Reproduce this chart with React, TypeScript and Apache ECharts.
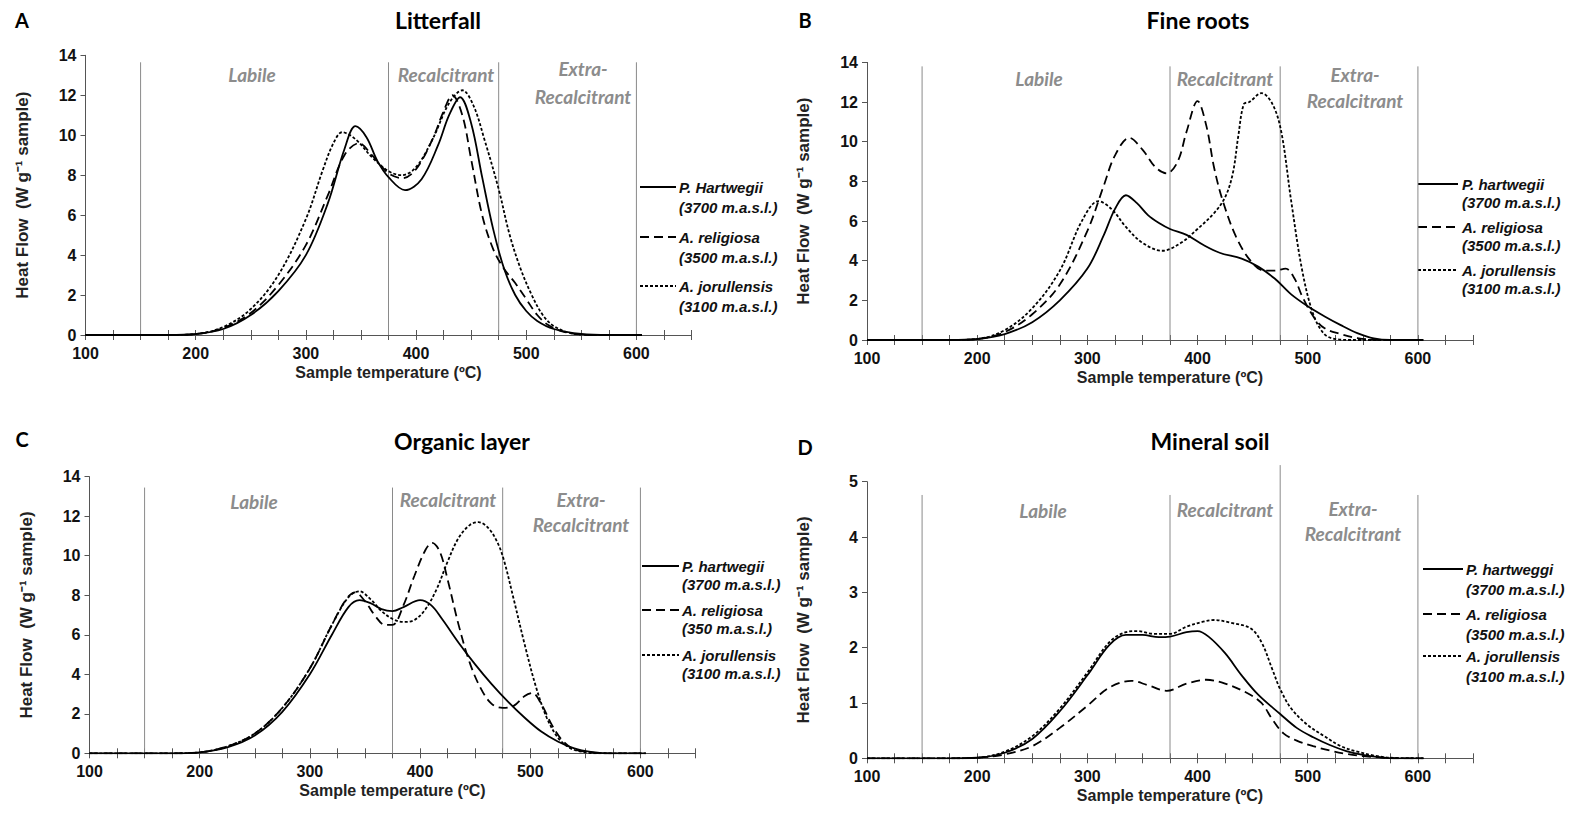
import React, { useEffect, useRef } from 'react';
import * as echarts from 'echarts';

// ---------- DATA ----------
const panelLetters = ['A', 'B', 'C', 'D'];
const panelTitles = ['Litterfall', 'Fine roots', 'Organic layer', 'Mineral soil'];
const regionBounds = [150, 375, 475, 600];
const regionNames = ['Labile', 'Recalcitrant', 'Extra-', 'Recalcitrant'];
const xTickLabels = [100, 200, 300, 400, 500, 600];
const yMaxes = [14, 14, 14, 5];
const yIntervals = [2, 2, 2, 1];
const speciesA = ['P. Hartwegii', 'A. religiosa', 'A. jorullensis'];
const speciesB = ['P. hartwegii', 'A. religiosa', 'A. jorullensis'];
const speciesC = ['P. hartwegii', 'A. religiosa', 'A. jorullensis'];
const speciesD = ['P. hartweggi', 'A. religiosa', 'A. jorullensis'];
const altitudesA = ['(3700 m.a.s.l.)', '(3500 m.a.s.l.)', '(3100 m.a.s.l.)'];
const altitudesC = ['(3700 m.a.s.l.)', '(350 m.a.s.l.)', '(3100 m.a.s.l.)'];
// heights where the region boundary lines stop
const boundTopsA = [13.65, 13.65, 13.65, 13.65];
const boundTopsB = [13.8, 13.8, 13.8, 13.8];
const boundTopsC = [13.45, 13.45, 13.45, 13.45];
const boundTopsD = [4.76, 4.76, 5.3, 4.76];

// A - Litterfall
const litterHartwegii = [[100,0],[150,0],[175,0],[200,0.05],[225,0.3],[250,1.0],[275,2.2],[300,4.0],[320,6.6],[335,9.3],[345,10.45],[355,9.9],[365,8.7],[375,7.9],[390,7.25],[405,7.8],[420,9.5],[430,11.0],[440,11.9],[450,10.6],[460,7.9],[470,5.3],[480,3.3],[490,2.0],[500,1.2],[510,0.7],[525,0.3],[550,0.05],[575,0],[605,0]];
const litterReligiosa = [[100,0],[150,0],[175,0],[200,0.05],[225,0.35],[250,1.1],[275,2.5],[300,4.5],[320,7.0],[335,9.0],[348,9.6],[360,9.0],[375,8.1],[388,7.85],[400,8.3],[415,9.8],[425,11.2],[433,12.0],[442,11.0],[450,8.8],[460,6.0],[470,4.3],[480,3.3],[490,2.6],[500,1.8],[510,1.0],[520,0.5],[535,0.15],[560,0],[605,0]];
const litterJorullensis = [[100,0],[150,0],[175,0],[200,0.05],[225,0.4],[250,1.3],[275,3.0],[300,5.8],[315,8.2],[325,9.6],[333,10.15],[345,9.8],[360,8.9],[375,8.2],[387,8.0],[400,8.4],[415,9.8],[430,11.6],[442,12.25],[452,11.5],[462,9.8],[475,7.3],[485,5.0],[495,3.3],[505,2.0],[515,1.0],[525,0.45],[540,0.1],[560,0],[605,0]];

// B - Fine roots
const rootsHartwegii = [[100,0],[150,0],[175,0],[200,0.05],[225,0.3],[250,0.9],[275,2.0],[300,3.6],[315,5.3],[325,6.6],[335,7.3],[345,6.9],[355,6.3],[365,5.9],[375,5.6],[390,5.3],[405,4.8],[420,4.4],[440,4.1],[455,3.7],[470,3.1],[485,2.3],[500,1.7],[515,1.2],[530,0.75],[545,0.35],[560,0.08],[575,0],[605,0]];
const rootsReligiosa = [[100,0],[150,0],[175,0],[200,0.05],[225,0.4],[250,1.3],[275,2.8],[300,5.5],[315,7.8],[325,9.3],[338,10.2],[350,9.6],[362,8.7],[372,8.4],[382,9.0],[390,10.5],[400,12.05],[408,10.8],[415,8.7],[423,7.0],[435,5.2],[448,4.0],[460,3.5],[470,3.5],[480,3.6],[488,3.1],[495,2.2],[505,1.2],[515,0.6],[530,0.3],[545,0.1],[565,0],[605,0]];
const rootsJorullensis = [[100,0],[150,0],[175,0],[200,0.05],[225,0.5],[250,1.6],[275,3.5],[295,6.0],[310,7.0],[322,6.6],[335,5.7],[350,4.9],[368,4.5],[385,4.9],[400,5.6],[415,6.4],[425,7.2],[432,8.4],[437,10.3],[442,11.9],[447,12.0],[458,12.45],[468,11.9],[476,10.5],[485,7.0],[495,3.5],[505,1.3],[515,0.3],[525,0.05],[540,0],[605,0]];

// C - Organic layer
const organicHartwegii = [[100,0],[150,0],[175,0],[200,0.05],[225,0.3],[250,0.9],[275,2.1],[300,4.0],[320,6.0],[335,7.4],[345,7.75],[355,7.6],[365,7.3],[375,7.2],[385,7.4],[400,7.75],[410,7.5],[420,6.8],[435,5.6],[450,4.5],[465,3.5],[480,2.6],[495,1.8],[510,1.1],[525,0.6],[540,0.25],[555,0.07],[570,0],[605,0]];
const organicReligiosa = [[100,0],[150,0],[175,0],[200,0.05],[225,0.35],[250,1.0],[275,2.3],[300,4.3],[320,6.5],[333,7.8],[341,8.15],[350,7.7],[360,6.9],[368,6.5],[375,6.5],[385,7.5],[395,9.0],[405,10.3],[411,10.65],[418,10.2],[425,8.8],[435,6.5],[445,4.6],[455,3.3],[465,2.5],[475,2.3],[485,2.4],[495,2.9],[502,3.05],[510,2.5],[520,1.4],[530,0.6],[540,0.2],[555,0.05],[570,0],[605,0]];
const organicJorullensis = [[100,0],[150,0],[175,0],[200,0.05],[225,0.35],[250,1.0],[275,2.3],[300,4.3],[320,6.5],[335,7.9],[345,8.2],[355,7.8],[365,7.2],[375,6.8],[385,6.65],[395,6.75],[405,7.3],[415,8.3],[425,9.7],[435,10.9],[445,11.55],[453,11.7],[462,11.4],[470,10.7],[476,9.8],[485,7.8],[495,5.5],[505,3.4],[515,1.8],[525,0.8],[535,0.3],[545,0.1],[560,0],[605,0]];

// D - Mineral soil
const soilHartweggi = [[100,0],[150,0],[175,0],[200,0.01],[225,0.1],[250,0.35],[275,0.85],[300,1.5],[320,2.05],[335,2.23],[350,2.23],[365,2.19],[375,2.2],[390,2.28],[400,2.3],[410,2.2],[425,1.9],[440,1.5],[455,1.15],[475,0.8],[490,0.55],[505,0.38],[520,0.24],[535,0.13],[550,0.06],[565,0.02],[580,0],[605,0]];
const soilReligiosa = [[100,0],[150,0],[175,0],[200,0.01],[225,0.07],[250,0.22],[275,0.55],[300,0.95],[320,1.28],[340,1.4],[355,1.32],[372,1.22],[390,1.35],[408,1.42],[425,1.35],[445,1.18],[458,1.0],[468,0.7],[478,0.45],[490,0.32],[505,0.22],[520,0.14],[535,0.08],[550,0.04],[570,0.01],[590,0],[605,0]];
const soilJorullensis = [[100,0],[150,0],[175,0],[200,0.01],[225,0.12],[250,0.4],[275,0.9],[300,1.55],[320,2.1],[335,2.28],[345,2.3],[360,2.25],[375,2.25],[390,2.38],[405,2.47],[415,2.5],[430,2.45],[448,2.35],[458,2.1],[468,1.6],[475,1.25],[485,0.9],[500,0.6],[515,0.4],[530,0.22],[545,0.12],[560,0.05],[575,0.01],[605,0]];

// ---------- LAYOUT / STYLE ----------
const grids = [
  { left: 85.5, top: 55.3, width: 606, height: 279.7 },
  { left: 867, top: 62.4, width: 606, height: 277.6 },
  { left: 89.5, top: 476.7, width: 606, height: 276.6 },
  { left: 867, top: 481.7, width: 606, height: 276.6 },
];
const letterPos = [[22, 20], [805, 20], [22, 439], [805, 447]];
const titlePos = [[438, 20], [1198, 20], [462, 441], [1210, 441]];
const regionPos = [
  [[252, 74], [446, 74], [583, 68], [583, 96]],
  [[1039, 78], [1225, 78], [1355, 74], [1355, 100]],
  [[254, 501], [448, 499], [581, 499], [581, 524]],
  [[1043, 510], [1225, 509], [1353, 508], [1353, 533]],
];
const legendPos = [
  { x1: 640, x2: 676, tx: 679, ys: [187, 237, 286], dy: 20 },
  { x1: 1418, x2: 1458, tx: 1462, ys: [184, 227, 270], dy: 18 },
  { x1: 642, x2: 679, tx: 682, ys: [566, 610, 655], dy: 18 },
  { x1: 1423, x2: 1463, tx: 1466, ys: [569, 614, 656], dy: 20 },
];
const dashes: (number[] | null)[] = [null, [9, 5], [3, 2]];
const NUMFONT = "'Liberation Sans Narrow','Arial Narrow','Liberation Sans',Arial,sans-serif";
const TXTFONT = "Lato,'Open Sans',sans-serif";

export default function App() {
  const ref = useRef<HTMLDivElement>(null);
  useEffect(() => {
    if (!ref.current) return;
    const chart = echarts.init(ref.current, undefined, { renderer: 'svg' });
    const panelData = [
      [litterHartwegii, litterReligiosa, litterJorullensis],
      [rootsHartwegii, rootsReligiosa, rootsJorullensis],
      [organicHartwegii, organicReligiosa, organicJorullensis],
      [soilHartweggi, soilReligiosa, soilJorullensis],
    ];
    const boundTops = [boundTopsA, boundTopsB, boundTopsC, boundTopsD];
    const species = [speciesA, speciesB, speciesC, speciesD];
    const altitudes = [altitudesA, altitudesA, altitudesC, altitudesA];

    const xAxes: any[] = [];
    const yAxes: any[] = [];
    const series: any[] = [];
    const graphics: any[] = [];

    grids.forEach((g, i) => {
      xAxes.push({
        type: 'value', gridIndex: i, min: 100, max: 650, interval: 25, position: 'bottom',
        name: 'Sample temperature (ºC)', nameLocation: 'middle', nameGap: 29,
        nameTextStyle: { fontFamily: NUMFONT, fontWeight: 'bold', fontSize: 16, color: '#222' },
        axisLine: { lineStyle: { color: '#555', width: 1 } },
        axisTick: { length: 5, lineStyle: { color: '#555' } },
        axisLabel: {
          interval: 0, margin: 10, fontFamily: NUMFONT, fontWeight: 'bold', fontSize: 16, color: '#111',
          formatter: (v: number) => (xTickLabels.includes(v) ? String(v) : ''),
        },
        splitLine: { show: false },
      });
      xAxes.push({
        type: 'value', gridIndex: i, min: 100, max: 650, interval: 25, position: 'bottom',
        axisLine: { show: false },
        axisTick: { inside: true, length: 5, lineStyle: { color: '#555' } },
        axisLabel: { show: false }, splitLine: { show: false },
      });
      yAxes.push({
        type: 'value', gridIndex: i, min: 0, max: yMaxes[i], interval: yIntervals[i],
        name: 'Heat Flow  (W g⁻¹ sample)', nameLocation: 'middle', nameGap: 55, nameRotate: 90,
        nameTextStyle: { fontFamily: "'Liberation Sans',Arial,sans-serif", fontWeight: 'bold', fontSize: 17, color: '#222' },
        axisLine: { show: true, lineStyle: { color: '#555', width: 1 } },
        axisTick: { show: true, length: 5, lineStyle: { color: '#555' } },
        axisLabel: { margin: 9, fontFamily: NUMFONT, fontWeight: 'bold', fontSize: 16, color: '#111' },
        splitLine: { show: false },
      });
      const xi = i * 2;
      regionBounds.forEach((b, k) => {
        series.push({
          type: 'line', xAxisIndex: xi, yAxisIndex: i, silent: true, clip: false,
          showSymbol: false, symbol: 'none',
          lineStyle: { color: '#8a8a8a', width: 1 },
          data: [[b, 0], [b, boundTops[i][k]]],
          z: 1,
        });
      });
      panelData[i].forEach((d, s) => {
        series.push({
          type: 'line', xAxisIndex: xi, yAxisIndex: i, smooth: 0.35, showSymbol: false, symbol: 'none',
          lineStyle: { color: '#000', width: 1.8, type: dashes[s] ? dashes[s] : 'solid' },
          data: d, z: 3,
        });
      });
      graphics.push({
        type: 'text', x: letterPos[i][0], y: letterPos[i][1],
        style: { text: panelLetters[i], font: `bold 20px ${TXTFONT}`, fill: '#000', align: 'center', verticalAlign: 'middle' },
      });
      graphics.push({
        type: 'text', x: titlePos[i][0], y: titlePos[i][1],
        style: { text: panelTitles[i], font: `bold 23px ${TXTFONT}`, fill: '#000', align: 'center', verticalAlign: 'middle' },
      });
      regionNames.forEach((r, k) => {
        graphics.push({
          type: 'text', x: regionPos[i][k][0], y: regionPos[i][k][1],
          style: { text: r, font: `italic bold 19px ${TXTFONT}`, fill: '#8c8c8c', align: 'center', verticalAlign: 'middle' },
        });
      });
      const lp = legendPos[i];
      species[i].forEach((name, s) => {
        const y = lp.ys[s];
        graphics.push({
          type: 'line', shape: { x1: lp.x1, y1: y, x2: lp.x2, y2: y },
          style: { stroke: '#000', lineWidth: 1.8, lineDash: dashes[s] || undefined },
        });
        graphics.push({
          type: 'text', x: lp.tx, y,
          style: { text: name, font: `italic bold 15px ${NUMFONT}`, fill: '#111', align: 'left', verticalAlign: 'middle' },
        });
        graphics.push({
          type: 'text', x: lp.tx, y: y + lp.dy,
          style: { text: altitudes[i][s], font: `italic bold 15px ${NUMFONT}`, fill: '#111', align: 'left', verticalAlign: 'middle' },
        });
      });
    });

    chart.setOption({
      animation: false,
      backgroundColor: '#fff',
      grid: grids.map((g) => ({ ...g, containLabel: false })),
      xAxis: xAxes,
      yAxis: yAxes,
      series,
      graphic: graphics,
    });
    return () => chart.dispose();
  }, []);
  return <div ref={ref} style={{ position: 'fixed', left: 0, top: 0, width: 1577, height: 838 }} />;
}
